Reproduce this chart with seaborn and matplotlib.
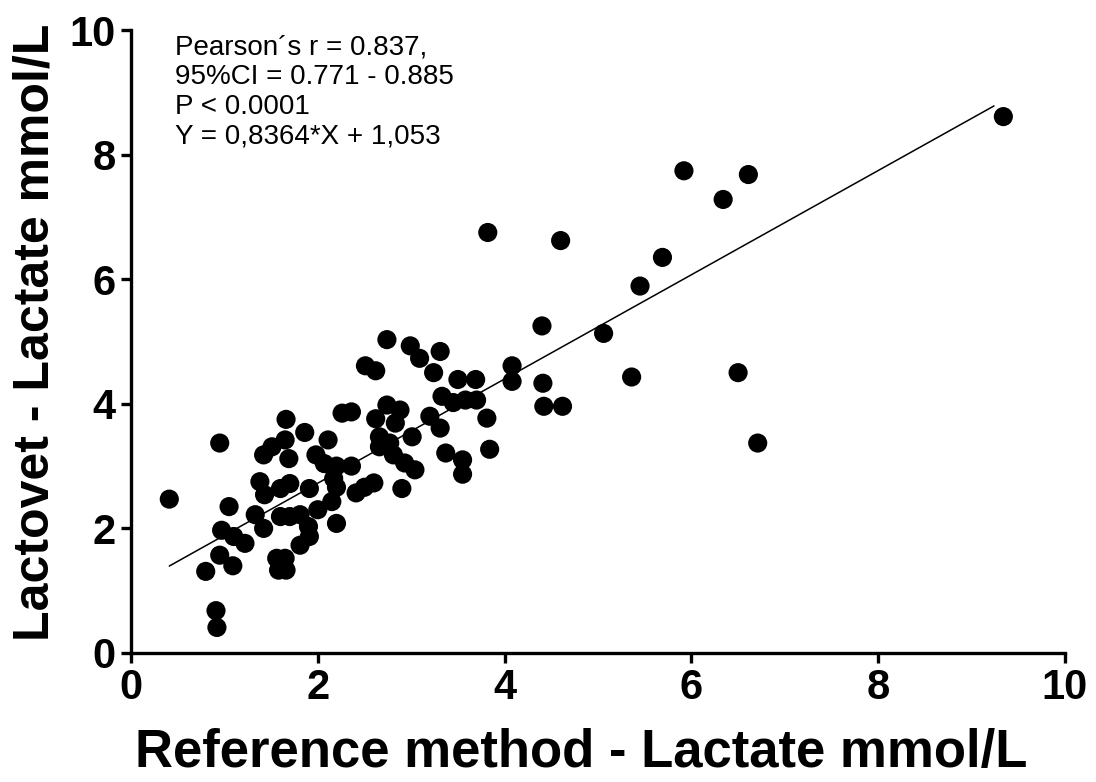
import numpy as np
import pandas as pd
import matplotlib
matplotlib.use('Agg')
import matplotlib.pyplot as plt
import seaborn as sns

##### data #####
ref_x = [0.41, 0.95, 1.05, 0.97, 1.10, 1.22, 0.95, 1.09, 0.80, 0.91, 0.92,
         1.33, 1.42, 1.38, 1.43, 1.42, 1.51, 1.66, 1.65, 1.69, 1.60, 1.70,
         1.60, 1.70, 1.81, 1.90, 1.91, 1.81, 1.56, 1.65, 1.58, 1.66, 1.86,
         1.91, 1.98, 2.07, 2.11, 2.00, 2.15, 2.20, 2.20, 2.36, 2.20, 2.41,
         2.50, 2.60, 2.17, 2.90, 2.26, 2.36, 2.51, 2.62, 2.74, 2.99, 3.09,
         3.31, 3.24, 2.62, 2.74, 2.88, 2.83, 2.66, 2.66, 2.77, 2.81, 2.93,
         3.04, 3.01, 3.20, 3.33, 3.31, 3.37, 3.50, 3.69, 4.08, 4.08, 4.40,
         4.41, 4.42, 3.45, 3.58, 3.70, 3.81, 3.84, 3.55, 3.55, 3.82, 4.60,
         5.92, 6.61, 6.34, 5.69, 5.45, 5.06, 4.62, 5.36, 6.50, 6.71, 9.34]
lactovet_y = [2.47, 3.37, 2.35, 1.97, 1.87, 1.76, 1.57, 1.40, 1.31, 0.68, 0.41,
              2.22, 2.00, 2.75, 2.54, 3.18, 3.31, 3.75, 3.42, 3.12, 2.64, 2.72,
              2.19, 2.19, 2.22, 2.03, 1.87, 1.73, 1.52, 1.52, 1.33, 1.33, 3.54,
              2.64, 3.18, 3.04, 3.42, 2.30, 2.43, 2.66, 3.00, 3.00, 2.08, 2.57,
              2.66, 2.73, 2.80, 2.64, 3.85, 3.87, 4.61, 4.53, 5.03, 4.93, 4.73,
              4.84, 4.50, 3.76, 3.98, 3.90, 3.69, 3.47, 3.31, 3.37, 3.18, 3.05,
              2.94, 3.47, 3.80, 4.12, 3.61, 3.21, 4.39, 4.39, 4.61, 4.36, 5.25,
              4.33, 3.96, 4.02, 4.06, 4.06, 3.77, 3.27, 3.10, 2.87, 6.75, 6.62,
              7.74, 7.68, 7.28, 6.35, 5.89, 5.13, 3.96, 4.43, 4.50, 3.37, 8.61]

slope = 0.8364
intercept = 1.053
stats_text = ['Pearson\u00b4s r = 0.837,', '95%CI = 0.771 - 0.885', 'P < 0.0001',
              'Y = 0,8364*X + 1,053']

df = pd.DataFrame({'Reference': ref_x, 'Lactovet': lactovet_y})

##### plot #####
sns.set_style('ticks')
plt.rcParams['font.family'] = ['Liberation Sans', 'DejaVu Sans']
plt.rcParams['text.color'] = 'black'
plt.rcParams['axes.labelcolor'] = 'black'
plt.rcParams['xtick.color'] = 'black'
plt.rcParams['ytick.color'] = 'black'

fig = plt.figure(figsize=(10.96, 7.82), dpi=100)
ax = fig.add_axes([131 / 1096, 1 - 653 / 782, (1065 - 131) / 1096, (653 - 30) / 782])

sns.scatterplot(data=df, x='Reference', y='Lactovet', ax=ax, s=190, color='black',
                edgecolor='none', zorder=3)

# fitted line over the data range
fit = pd.DataFrame({'x': [df['Reference'].min(), df['Reference'].max() - 0.1]})
fit['y'] = slope * fit['x'] + intercept
sns.lineplot(data=fit, x='x', y='y', ax=ax, color='black', linewidth=1.1, zorder=2)

ax.set_xlim(0, 10)
ax.set_ylim(0, 10)
ax.set_xticks(np.arange(0, 11, 2))
ax.set_yticks(np.arange(0, 11, 2))
for s in ['top', 'right']:
    ax.spines[s].set_visible(False)
for s in ['left', 'bottom']:
    ax.spines[s].set_linewidth(2.4)
    ax.spines[s].set_color('black')
ax.tick_params(axis='both', which='major', length=7, width=2.4, color='black',
               labelcolor='black', labelsize=30, pad=4)
for lab in ax.get_xticklabels() + ax.get_yticklabels():
    lab.set_fontweight('bold')

ax.set_xlabel('Reference method - Lactate mmol/L', fontsize=38, fontweight='bold', labelpad=14)
ax.set_ylabel('Lactovet - Lactate mmol/L', fontsize=36, fontweight='bold', labelpad=8)
ax.xaxis.label.set_x(0.482)
ax.yaxis.label.set_y(0.515)

ax.text(0.47, 9.93, '\n'.join(stats_text), fontsize=20, va='top', ha='left',
        linespacing=1.18, color='black')

plt.savefig('out.png', dpi=100)
